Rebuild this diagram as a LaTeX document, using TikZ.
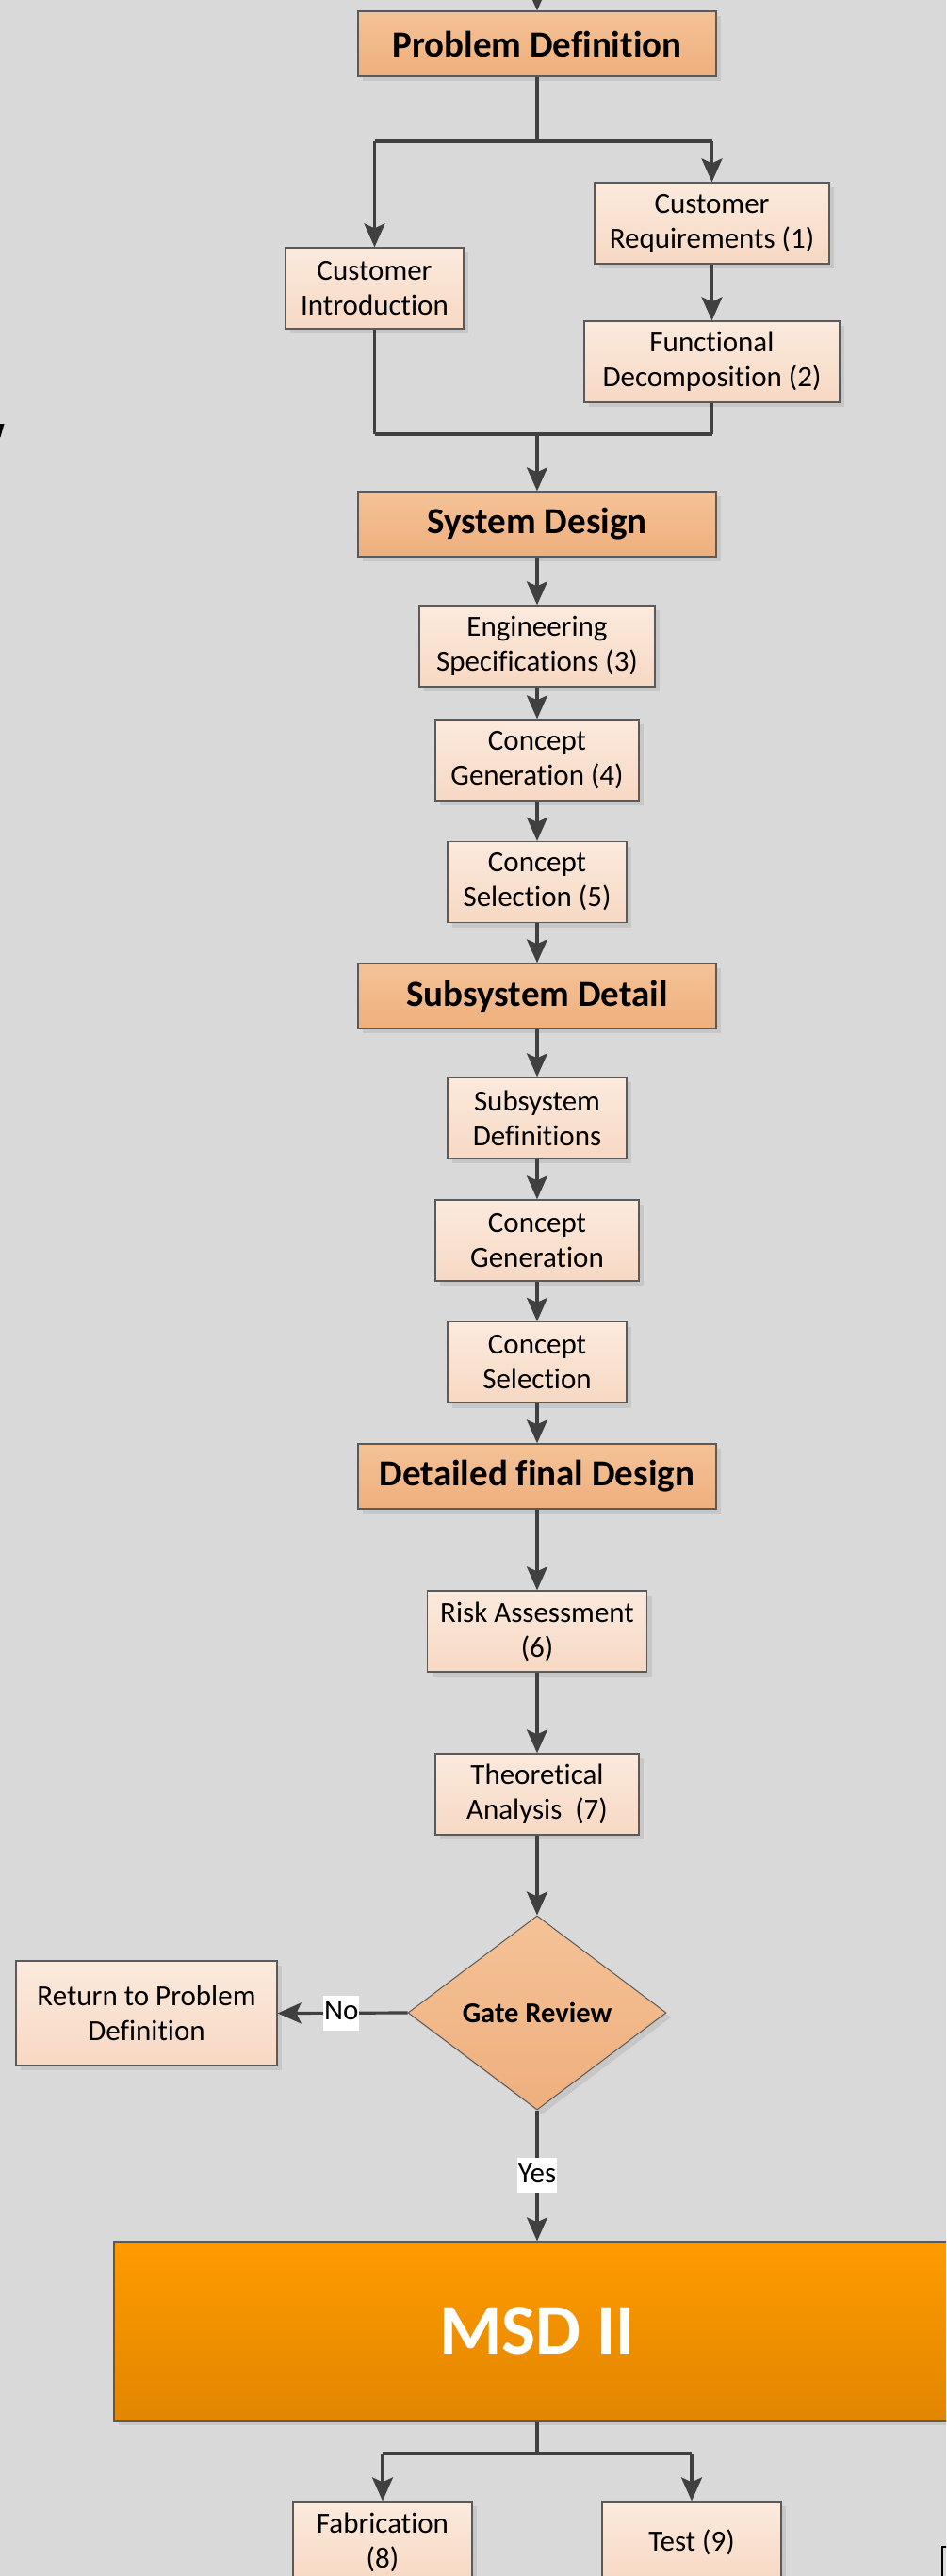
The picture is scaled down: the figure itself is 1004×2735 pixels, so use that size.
\documentclass[tikz,border=0pt]{standalone}
\usepackage{fontspec}
\setmainfont{Carlito}[Ligatures={NoCommon}]
\usetikzlibrary{arrows.meta,shapes.geometric,shadows}
\definecolor{bg}{HTML}{D9D9D9}
\definecolor{ln}{HTML}{404040}
\definecolor{boxline}{HTML}{5A5A5A}
\definecolor{lt1}{HTML}{FBEADD}
\definecolor{lt2}{HTML}{F7D8C3}
\definecolor{hd1}{HTML}{F4C297}
\definecolor{hd2}{HTML}{EFAF7D}
\definecolor{ms1}{HTML}{FF9B00}
\definecolor{ms2}{HTML}{E28600}
\begin{document}
\begin{tikzpicture}[x=1pt,y=-1pt,
  shade/.style={drop shadow={shadow xshift=5pt,shadow yshift=-5pt,opacity=0.08,fill=black}},
  box/.style={shade,draw=boxline,line width=1.3pt,top color=lt1,bottom color=lt2,
    align=center,inner sep=0pt,font=\fontsize{31}{37}\selectfont,
    minimum height=86pt},
  head/.style={box,top color=hd1,bottom color=hd2,minimum width=380pt,minimum height=69pt,
    font=\fontsize{39}{46}\selectfont\bfseries},
  flow/.style={draw=ln,line width=3.2pt,-{Stealth[length=25pt,width=22pt,inset=5pt]}},
  plain/.style={draw=ln,line width=3.2pt},
  branch/.style={draw=ln,line width=4.6pt},
  lbl/.style={fill=white,inner xsep=0.6pt,inner ysep=4pt,text height=22pt,text depth=7pt,
    font=\fontsize{31}{36}\selectfont}
]
\useasboundingbox (0,0) rectangle (1004,2735);
\clip (0,0) rectangle (1004,2735);
\fill[bg] (0,0) rectangle (1004,2735);

% nodes
\node[head] (pd) at (570,46.5) {Problem Definition};
\node[box,minimum width=189pt] (ci) at (397.5,306) {Customer\\Introduction};
\node[box,minimum width=249pt] (cr) at (755.5,237) {Customer\\Requirements (1)};
\node[box,minimum width=271pt] (fd) at (755.5,384) {Functional\\Decomposition (2)};
\node[head] (sd) at (570,556.5) {System Design};
\node[box,minimum width=250pt] (es) at (570,686) {Engineering\\Specifications (3)};
\node[box,minimum width=216pt] (cga) at (570,807) {Concept\\Generation (4)};
\node[box,minimum width=190pt] (csa) at (570,936.5) {Concept\\Selection (5)};
\node[head] (ssd) at (570,1057.5) {Subsystem Detail};
\node[box,minimum width=190pt] (sdef) at (570,1187) {Subsystem\\Definitions};
\node[box,minimum width=216pt] (cgb) at (570,1317) {Concept\\Generation};
\node[box,minimum width=190pt] (csb) at (570,1446.5) {Concept\\Selection};
\node[head] (dfd) at (570,1567.5) {Detailed final Design};
\node[box,minimum width=233pt] (ra) at (570,1732) {Risk Assessment\\(6)};
\node[box,minimum width=216pt] (ta) at (570,1905) {Theoretical\\Analysis~~(7)};
\node[shade,diamond,draw=boxline,line width=1pt,top color=hd1,bottom color=hd2,
  aspect=1.33,minimum width=274pt,minimum height=206pt,inner sep=0pt,
  font=\fontsize{30.5}{36}\selectfont\bfseries] (gr) at (570,2137) {Gate Review};
\node[box,minimum width=277pt,minimum height=111pt] (ret) at (155.5,2137.5) {Return to Problem\\Definition};
\node[shade,draw=boxline,line width=1.3pt,top color=ms1,bottom color=ms2,
  minimum width=898pt,minimum height=190pt,inner sep=0pt,text=white,
  font=\fontsize{76}{90}\selectfont\bfseries] (msd) at (570,2475) {MSD II};
\node[box,minimum width=190pt] (fab) at (406,2699) {Fabrication\\(8)};
\node[box,minimum width=190pt] (test) at (734,2699) {Test (9)};

% coordinates
\coordinate (top) at (570,-40);
\coordinate (j1) at (570,150);
\coordinate (j1l) at (397.5,150);
\coordinate (j1r) at (755.5,150);
\coordinate (m) at (570,461);
\coordinate (ml) at (397.5,461);
\coordinate (mr) at (755.5,461);
\coordinate (j2) at (570,2605);
\coordinate (j2l) at (406,2605);
\coordinate (j2r) at (734,2605);

% connectors
\draw[flow] (top) -- (pd.north);
\draw[plain] (pd.south) -- (j1);
\draw[branch] (j1l) -- (j1r);
\draw[flow] (j1l) -- (ci.north);
\draw[flow] (j1r) -- (cr.north);
\draw[flow] (cr) -- (fd);
\draw[plain] (ci.south) -- (ml);
\draw[plain] (fd.south) -- (mr);
\draw[branch] (ml) -- (mr);
\draw[flow] (m) -- (sd.north);
\draw[flow] (sd) -- (es);
\draw[flow] (es) -- (cga);
\draw[flow] (cga) -- (csa);
\draw[flow] (csa) -- (ssd);
\draw[flow] (ssd) -- (sdef);
\draw[flow] (sdef) -- (cgb);
\draw[flow] (cgb) -- (csb);
\draw[flow] (csb) -- (dfd);
\draw[flow] (dfd) -- (ra);
\draw[flow] (ra) -- (ta);
\draw[flow] (ta) -- (gr.north);
\draw[flow] (gr.west) -- node[lbl,pos=0.51] {No} (ret.east);
\draw[flow] (gr.south) -- node[lbl,pos=0.5] {Yes} (msd.north);
\draw[plain] (msd.south) -- (j2);
\draw[branch] (j2l) -- (j2r);
\draw[flow] (j2l) -- (fab.north);
\draw[flow] (j2r) -- (test.north);

% cut-off fragments at the edges
\fill[black] (0,450) -- (4.5,450) -- (0.5,464) -- (0,464) -- cycle;
\draw[black,line width=2pt] (1006,2704) -- (999.5,2704) -- (999.5,2740);
\end{tikzpicture}
\end{document}
